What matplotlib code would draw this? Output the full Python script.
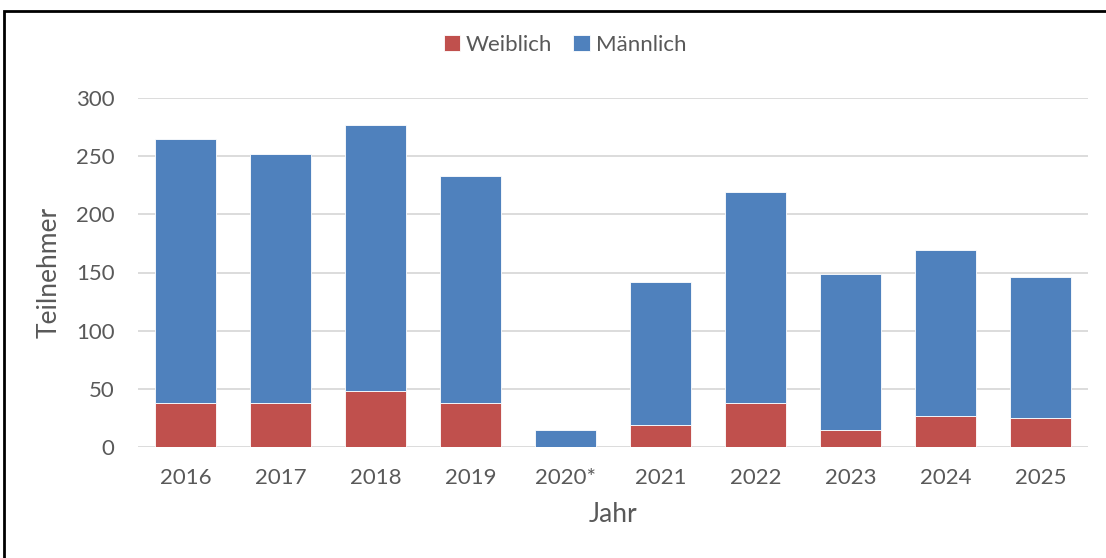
import matplotlib
matplotlib.use("Agg")
import matplotlib.pyplot as plt
from matplotlib.patches import Rectangle
import numpy as np

# Data
years = ["2016", "2017", "2018", "2019", "2020*", "2021", "2022", "2023", "2024", "2025"]
weiblich = [38, 38, 48, 38, 0, 19, 38, 15, 27, 25]
gesamt = [265, 252, 277, 233, 15, 142, 219, 149, 169, 146]
maennlich = [g - w for g, w in zip(gesamt, weiblich)]
y_ticks = [0, 50, 100, 150, 200, 250, 300]

RED = "#c0504d"
BLUE = "#4f81bd"
TEXT = "#595959"
GRID = "#d9d9d9"

plt.rcParams["font.family"] = ["Lato", "DejaVu Sans"]

fig = plt.figure(figsize=(11.06, 5.58), dpi=100)
ax = fig.add_axes([138 / 1106, 111 / 558, 950 / 1106, 349 / 558])

x = np.arange(len(years))
w = 0.65
ax.bar(x, weiblich, width=w, color=RED, edgecolor="white", linewidth=0.6,
       label="Weiblich", zorder=3)
ax.bar(x, maennlich, width=w, bottom=weiblich, color=BLUE, edgecolor="white",
       linewidth=0.6, label="Männlich", zorder=3)

ax.set_xlim(-0.5, len(years) - 0.5)
ax.set_ylim(0, 300)
ax.set_yticks(y_ticks)
ax.set_xticks(x)
ax.set_xticklabels(years)
ax.tick_params(axis="both", length=0, labelsize=16, colors=TEXT)
ax.tick_params(axis="x", pad=15)
ax.tick_params(axis="y", pad=17)

ax.set_axisbelow(True)
ax.yaxis.grid(True, color=GRID, linewidth=1.3)
for spine in ax.spines.values():
    spine.set_visible(False)

ax.set_xlabel("Jahr", fontsize=19, color=TEXT, labelpad=10)
ax.set_ylabel("Teilnehmer", fontsize=19, color=TEXT, labelpad=10)

leg = fig.legend(loc="center", bbox_to_anchor=(565 / 1106, 1 - 45 / 558),
                 ncol=2, frameon=False, fontsize=16, handlelength=0.75,
                 handleheight=0.75, handletextpad=0.25, columnspacing=0.95)
for t in leg.get_texts():
    t.set_color(TEXT)

# outer frame (only top/left visible in the original)
fig.patches.append(Rectangle((4 / 1106, -0.1), 1.2, 1 - 11 / 558 + 0.1,
                             transform=fig.transFigure, fill=False,
                             edgecolor="black", linewidth=2))

fig.savefig("out.png", dpi=100, facecolor="white")
